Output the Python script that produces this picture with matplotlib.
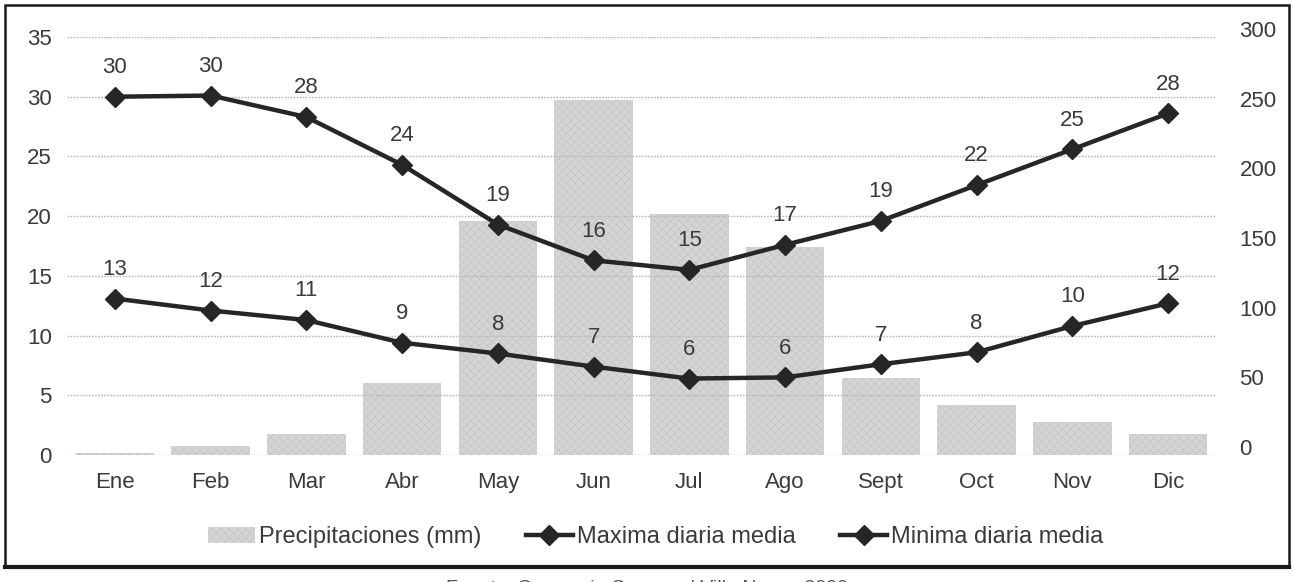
import matplotlib.pyplot as plt
import matplotlib.transforms as mtransforms
from matplotlib.lines import Line2D
from matplotlib.patches import Patch, Rectangle

plt.rcParams['font.family'] = ['Liberation Sans', 'DejaVu Sans']
plt.rcParams['hatch.linewidth'] = 0.4

meses = ['Ene', 'Feb', 'Mar', 'Abr', 'May', 'Jun', 'Jul', 'Ago', 'Sept', 'Oct', 'Nov', 'Dic']
precip = [1.5, 6.5, 15, 52, 168, 255, 173, 149, 55, 36, 24, 15]
t_max = [30.0, 30.1, 28.3, 24.3, 19.3, 16.3, 15.5, 17.6, 19.6, 22.6, 25.6, 28.6]
t_min = [13.1, 12.1, 11.3, 9.4, 8.5, 7.4, 6.4, 6.5, 7.6, 8.6, 10.8, 12.7]
lab_max = ['30', '30', '28', '24', '19', '16', '15', '17', '19', '22', '25', '28']
lab_min = ['13', '12', '11', '9', '8', '7', '6', '6', '7', '8', '10', '12']

fig = plt.figure(figsize=(12.93, 5.82), dpi=100)
ax = fig.add_axes([0.0518, 0.2182, 0.8886, 0.7182])
ax2 = ax.twinx()

x = list(range(len(meses)))
txt = '#3a3a3a'
line_c = '#262626'

# barras (eje derecho)
ax.bar(x, precip, width=0.82, color='#d4d4d4', edgecolor='#c2c2c2',
       linewidth=0, hatch='xxxx', zorder=2)
ax.set_ylim(0, 300)
ax.set_yticks(range(0, 301, 50))
ax.yaxis.tick_right()
ax.tick_params(axis='y', length=0, pad=17, labelsize=16, labelcolor=txt)
offset = mtransforms.ScaledTranslation(0, 0.08, fig.dpi_scale_trans)
for lbl in ax.get_yticklabels():
    lbl.set_transform(lbl.get_transform() + offset)
ax.set_xlim(-0.5, 11.5)
ax.set_xticks(x)
ax.set_xticklabels(meses)
ax.tick_params(axis='x', length=0, pad=12, labelsize=16, labelcolor=txt)

# lineas (eje izquierdo)
ax2.plot(x, t_max, color=line_c, lw=3.2, marker='D', ms=10, zorder=4)
ax2.plot(x, t_min, color=line_c, lw=3.2, marker='D', ms=10, zorder=4)
for i in x:
    ax2.annotate(lab_max[i], (i, t_max[i]), xytext=(0, 21), textcoords='offset points',
                 ha='center', va='center', fontsize=16, color=txt)
    ax2.annotate(lab_min[i], (i, t_min[i]), xytext=(0, 21), textcoords='offset points',
                 ha='center', va='center', fontsize=16, color=txt)
ax2.set_ylim(0, 35)
ax2.set_yticks(range(0, 36, 5))
ax2.yaxis.tick_left()
ax2.tick_params(axis='y', length=0, pad=11, labelsize=16, labelcolor=txt)
ax2.grid(axis='y', color='#b8b8b8', lw=1.0, ls=(0, (1.2, 1)), zorder=0)
ax2.set_axisbelow(True)

for a in (ax, ax2):
    for s in a.spines.values():
        s.set_visible(False)

handles = [
    Patch(facecolor='#d4d4d4', edgecolor='#c2c2c2', hatch='xxxx', linewidth=0),
    Line2D([], [], color=line_c, lw=3.2, marker='D', ms=10),
    Line2D([], [], color=line_c, lw=3.2, marker='D', ms=10),
]
fig.legend(handles, ['Precipitaciones (mm)', 'Maxima diaria media', 'Minima diaria media'],
           loc='center', bbox_to_anchor=(0.507, 0.077), ncol=3, frameon=False,
           fontsize=17, labelcolor=txt, handlelength=2.0, handletextpad=0.15,
           columnspacing=1.9)

# marco exterior
fig.patches.append(Rectangle((0.004, 0.026), 0.993, 0.966, transform=fig.transFigure,
                             fill=False, edgecolor='#1a1a1a', lw=1.8))
fig.add_artist(Line2D([0.004, 0.997], [0.026, 0.026], transform=fig.transFigure,
                      color='#1a1a1a', lw=3))
fig.text(0.5, -0.012, 'Fuente: Consorcio Comarcal Villa Nueva 2000', ha='center',
         va='center', fontsize=14, color='#555555')

fig.savefig('out.png', dpi=100)
